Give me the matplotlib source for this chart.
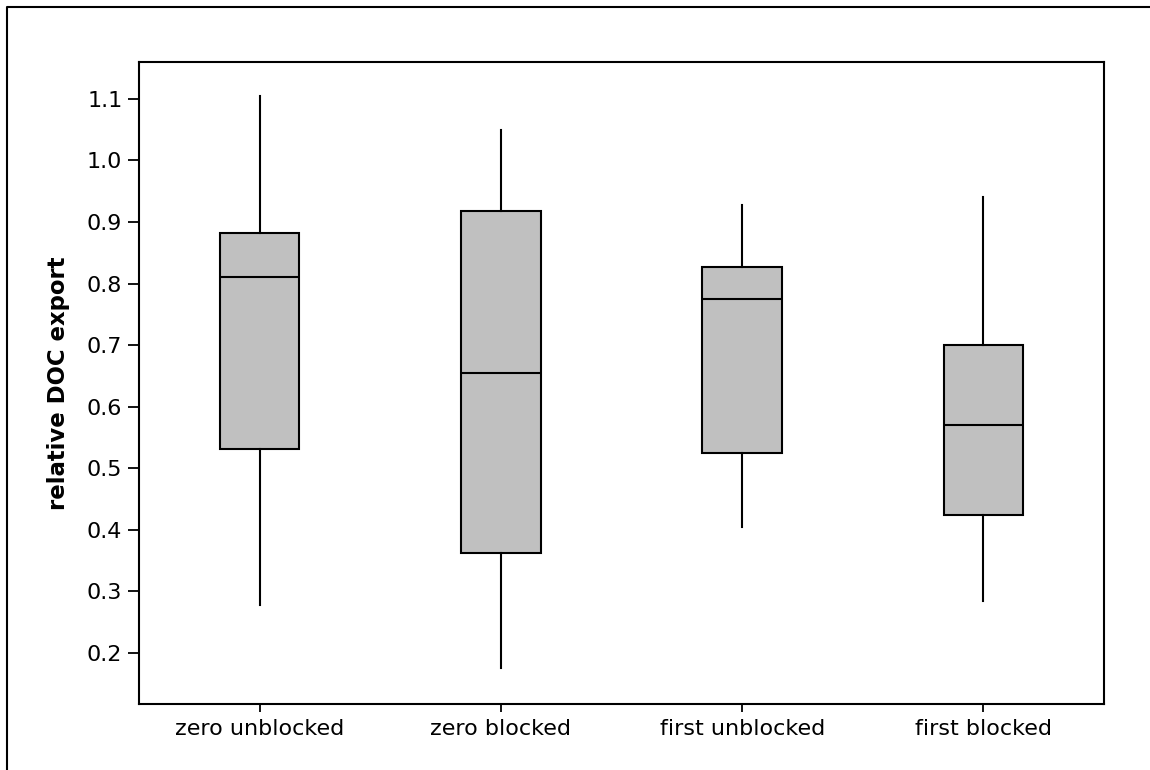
import matplotlib
matplotlib.use("Agg")
import matplotlib.pyplot as plt
from matplotlib.lines import Line2D

# values
groups = ["zero unblocked", "zero blocked", "first unblocked", "first blocked"]
whislo = [0.278, 0.175, 0.405, 0.285]
q1 = [0.531, 0.363, 0.525, 0.424]
med = [0.810, 0.655, 0.775, 0.570]
q3 = [0.882, 0.918, 0.827, 0.700]
whishi = [1.105, 1.050, 0.927, 0.940]
yticks = [0.2, 0.3, 0.4, 0.5, 0.6, 0.7, 0.8, 0.9, 1.0, 1.1]

plt.rcParams['font.family'] = ['DejaVu Sans']

fig = plt.figure(figsize=(11.5, 7.7), dpi=100)
ax = fig.add_axes([0.1209, 0.0857, 0.8391, 0.8338])

stats = []
for i in range(len(groups)):
    stats.append(dict(label=groups[i], whislo=whislo[i], q1=q1[i], med=med[i],
                      q3=q3[i], whishi=whishi[i], fliers=[]))

ax.bxp(stats, positions=range(1, len(groups) + 1), widths=0.33,
       showcaps=False, patch_artist=True,
       boxprops=dict(facecolor='#c0c0c0', edgecolor='black', linewidth=1.5),
       whiskerprops=dict(color='black', linewidth=1.5),
       medianprops=dict(color='black', linewidth=1.5))

ax.set_xlim(0.5, 4.5)
ax.set_ylim(0.117, 1.160)
ax.set_yticks(yticks)
ax.set_yticklabels(["%.1f" % v for v in yticks])
ax.set_xticks(range(1, len(groups) + 1))
ax.set_xticklabels(groups)
ax.tick_params(axis='y', direction='out', length=8, width=1.3, labelsize=16, pad=4)
ax.tick_params(axis='x', direction='out', length=6, width=1.3, labelsize=16, pad=5)
for s in ax.spines.values():
    s.set_linewidth(1.5)
ax.set_ylabel("relative DOC export", fontsize=16.4, fontweight='bold', labelpad=12)

# outer frame (left and top edges only, as in the reference)
x0 = 7 / 1150
y0 = 1 - 7 / 770
fig.add_artist(Line2D([x0, x0, 1.0], [0.0, y0, y0], transform=fig.transFigure,
                      color='black', linewidth=1.5))

fig.savefig("out.png", dpi=100)
